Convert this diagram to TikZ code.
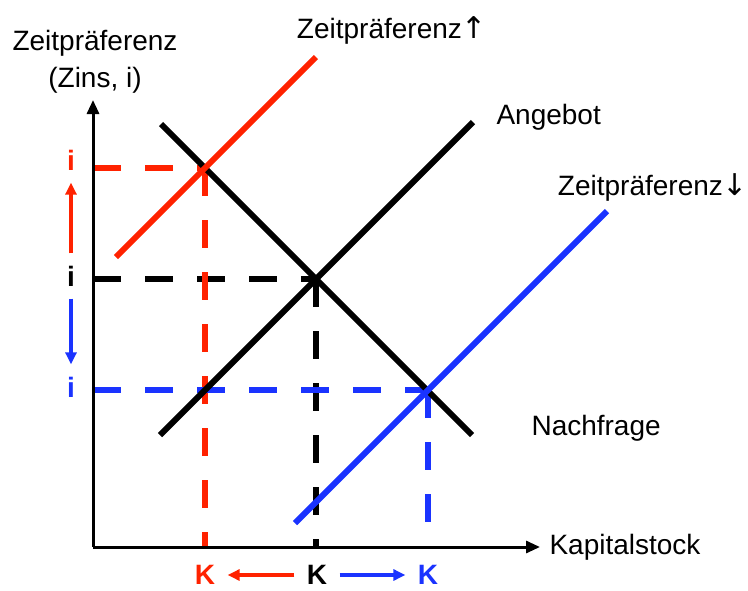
\documentclass[tikz,border=0pt]{standalone}
\usepackage{fontspec}
\setmainfont{Liberation Sans}
\newfontfamily\pfeilfont{DejaVu Sans}
\usepackage{xcolor}
\usetikzlibrary{arrows.meta}
\definecolor{zred}{RGB}{255,34,0}
\definecolor{zblue}{RGB}{26,51,255}

\begin{document}
\begin{tikzpicture}[x=1pt,y=-1pt,
        every node/.style={font=\fontsize{28}{37}\selectfont},
        kurve/.style={line width=6pt},
        hilfs/.style={line width=6pt,dash pattern=on 28pt off 24pt},
        achse/.style={line width=3pt,-{Triangle[length=14pt,width=12pt]}},
        pfeil/.style={line width=4pt,-{Triangle[length=12pt,width=11pt]},shorten <=9pt,shorten >=9pt},
        wert/.style={font=\fontsize{28}{37}\selectfont\bfseries}]
            \useasboundingbox (0,0) rectangle (748,590);

            \coordinate (o) at (93,547);
            \coordinate (yend) at (93,100);
            \coordinate (xend) at (540,547);

            \coordinate (n1) at (161,124);
            \coordinate (n2) at (472,435);
            \coordinate (s1) at (160,435);
            \coordinate (s2) at (473,122);
            \coordinate (r1) at (116,257);
            \coordinate (r2) at (316,57);
            \coordinate (b1) at (295,523);
            \coordinate (b2) at (607,211);

            \coordinate (e0) at (316,279);
            \coordinate (er) at (205,168);
            \coordinate (eb) at (428,390);

            \node[wert] (i0) at (71,276) {i};
            \node[wert,text=zred] (ir) at (71,160) {i};
            \node[wert,text=zblue] (ib) at (71,387) {i};
            \node[wert] (k0) at (317,575) {K};
            \node[wert,text=zred] (kr) at (205,575) {K};
            \node[wert,text=zblue] (kb) at (428,575) {K};

            \node[align=center] (a1) at (95,62) {Zeitpräferenz\\(Zins, i)};
            \node (a2) at (392,30) {Zeitpräferenz{\pfeilfont\fontsize{30}{37}\selectfont↑}};
            \node[anchor=west] (a3) at (493,117) {Angebot};
            \node (a4) at (653,187) {Zeitpräferenz{\pfeilfont\fontsize{30}{37}\selectfont↓}};
            \node[anchor=west] (a5) at (528,428) {Nachfrage};
            \node[anchor=west] (a6) at (546,547) {Kapitalstock};

            \draw[hilfs] (o |- e0) -- (e0);
            \draw[hilfs] (e0) -- (e0 |- o);
            \draw[hilfs,zred] (o |- er) -- (er);
            \draw[hilfs,zred] (er) -- (er |- o);
            \draw[hilfs,zblue] (o |- eb) -- (eb);
            \draw[hilfs,zblue] (eb) -- (eb |- o);

            \draw[achse] (o) -- (yend);
            \draw[achse] (o) -- (xend);

            \draw[kurve] (n1) -- (n2);
            \draw[kurve] (s1) -- (s2);
            \draw[kurve,zred] (r1) -- (r2);
            \draw[kurve,zblue] (b1) -- (b2);

            \draw[pfeil,zred] (i0) -- (ir);
            \draw[pfeil,zblue] (i0) -- (ib);
            \draw[pfeil,zred] (k0) -- (kr);
            \draw[pfeil,zblue] (k0) -- (kb);
\end{tikzpicture}
\end{document}
